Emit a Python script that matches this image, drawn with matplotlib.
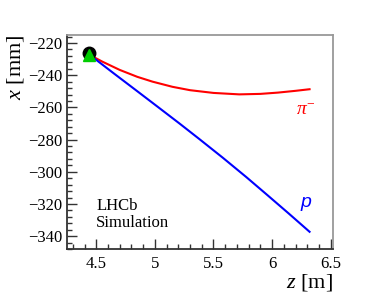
import numpy as np
import matplotlib
matplotlib.use("Agg")
import matplotlib.pyplot as plt
from matplotlib.ticker import MultipleLocator, FuncFormatter

# Track positions (z in m, x in mm)
z_pi = [4.434, 4.55, 4.70, 4.85, 4.98, 5.15, 5.30, 5.50, 5.72, 5.90, 6.05, 6.20, 6.32]
x_pi = [-227.0, -231.5, -236.7, -241.0, -244.0, -247.2, -249.3, -251.0, -251.9,
        -251.6, -250.8, -249.7, -248.7]

z_p = [4.434, 4.65, 4.84, 5.02, 5.21, 5.38, 5.58, 5.78, 5.96, 6.14, 6.32]
x_p = [-226.8, -238.9, -249.4, -259.4, -270.0, -279.7, -291.3, -303.3, -314.5,
       -325.8, -337.3]

z_start = [4.434]
x_circle = [-226.3]
x_triangle = [-227.3]

plt.rcParams['font.family'] = ['Liberation Serif', 'DejaVu Serif']
plt.rcParams['mathtext.fontset'] = 'custom'
plt.rcParams['mathtext.it'] = 'Liberation Serif:italic'
plt.rcParams['mathtext.rm'] = 'Liberation Serif'

fig = plt.figure(figsize=(3.74, 3.01), dpi=100)
ax = fig.add_axes([67 / 374, 1 - 249 / 301, 266 / 374, 214 / 301])

ax.plot(z_pi, x_pi, color='#ff0000', lw=1.5)
ax.plot(z_p, x_p, color='#0000ff', lw=1.5)
ax.plot(z_start, x_circle, 'o', color='black', ms=9, zorder=3)
ax.plot(z_start, x_triangle, '^', color='#00cc00', ms=8.5, zorder=4)

ax.set_xlim(4.25, 6.52)
ax.set_ylim(-348, -215)

ax.xaxis.set_major_locator(MultipleLocator(0.5))
ax.xaxis.set_minor_locator(MultipleLocator(0.1))
ax.yaxis.set_major_locator(MultipleLocator(20))
ax.yaxis.set_minor_locator(MultipleLocator(4))
ax.xaxis.set_major_formatter(FuncFormatter(lambda v, p: f"{v:g}"))
ax.yaxis.set_major_formatter(FuncFormatter(lambda v, p: f"\u2212{abs(v):g}" if v < 0 else f"{v:g}"))

ax.tick_params(which='both', direction='in', top=False, right=False, labelsize=12, color='#333333')
ax.tick_params(which='major', length=7, width=1)
ax.tick_params(which='minor', length=3.5, width=1)
ax.tick_params(axis='x', pad=5)

for s in ['top', 'right']:
    ax.spines[s].set_color('#999999')
    ax.spines[s].set_linewidth(1.3)
for s in ['left', 'bottom']:
    ax.spines[s].set_color('#333333')
    ax.spines[s].set_linewidth(1.3)

ax.set_xlabel(r'$z$ [m]', fontsize=16, loc='right', labelpad=0)
ax.set_ylabel(r'$x$ [mm]', fontsize=16, loc='top', labelpad=1)

ax.text(6.37, -256.5, r'$\pi^{-}$', color='#ff0000', fontsize=14, ha='right', va='top')
ax.text(6.335, -319, 'p', color='#0000ff', fontsize=14, ha='right', va='center',
        family='Liberation Sans', style='italic')
ax.text(4.5, -316, 'LHCb\nSimulation', fontsize=12, ha='left', va='top', linespacing=1.15)

fig.savefig('out.png', dpi=100)
